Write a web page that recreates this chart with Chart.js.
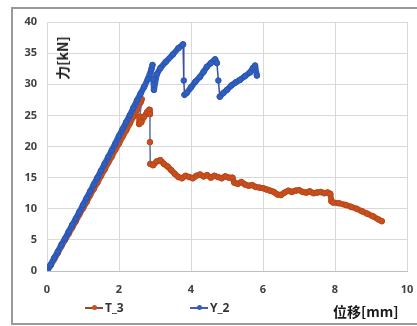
<!DOCTYPE html>
<html>
<head>
<meta charset="utf-8">
<script src="https://cdn.jsdelivr.net/npm/chart.js@4/dist/chart.umd.min.js"></script>
<style>
    html, body { margin: 0; padding: 0; background: #fff; }
    #wrap { position: relative; width: 417px; height: 326px; overflow: hidden; font-family: "Noto Sans", "Noto Sans CJK SC", sans-serif; }
    #frame { position: absolute; left: 11px; top: 7px; width: 420px; height: 318px; border: 2px solid #9a9a9a; box-sizing: border-box; }
    canvas { position: absolute; left: 0; top: 0; }
    .ttl { position: absolute; font-weight: 700; color: #1a1a1a; font-family: "Noto Sans CJK SC", "Noto Sans", sans-serif; white-space: nowrap; }
    #ytitle { left: 62px; top: 58px; font-size: 14px; transform: translate(-50%, -50%) rotate(-90deg); }
    #xtitle { left: 333px; top: 301px; font-size: 14px; }
    .lg { position: absolute; top: 299px; font-size: 12px; font-weight: 700; color: #333; display: flex; align-items: center; }
    .lg .ln { position: relative; width: 18px; height: 2px; margin-right: 2px; }
    .lg .dot { position: absolute; left: 7px; top: -2px; width: 5px; height: 5px; border-radius: 50%; }
</style>
</head>
<body>
<div id="wrap">
    <div id="frame"></div>
    <canvas id="chart" width="417" height="326"></canvas>
    <div class="ttl" id="ytitle">力[kN]</div>
    <div class="ttl" id="xtitle">位移[mm]</div>
    <div class="lg" style="left:85px"><span class="ln" style="background:#8b4a3a"><span class="dot" style="background:#c8501e"></span></span>T_3</div>
    <div class="lg" style="left:190px"><span class="ln" style="background:#4a5aa8"><span class="dot" style="background:#2f5fbf"></span></span>Y_2</div>
</div>
<script>
    const seriesNames = ['T_3', 'Y_2'];

    const t3X = [0, 0.1, 0.2, 0.3, 0.4, 0.5, 0.6, 0.7, 0.8, 0.9, 1.0, 1.1, 1.2, 1.3, 1.4, 1.5, 1.6, 1.7, 1.8, 1.9,
        2.0, 2.1, 2.2, 2.3, 2.4, 2.5, 2.6, 2.63, 2.58, 2.56, 2.62, 2.7, 2.78, 2.84, 2.86, 2.86, 2.87,
        2.95, 3.05, 3.15, 3.25, 3.35, 3.45, 3.55, 3.65, 3.75, 3.85, 3.95, 4.05, 4.15, 4.25, 4.35, 4.45,
        4.55, 4.65, 4.75, 4.85, 4.95, 5.05, 5.15, 5.2, 5.3, 5.4, 5.5, 5.6, 5.7, 5.8, 5.9, 6.0, 6.1, 6.2,
        6.3, 6.4, 6.5, 6.6, 6.7, 6.8, 6.9, 7.0, 7.1, 7.2, 7.3, 7.4, 7.5, 7.6, 7.7, 7.8, 7.87, 7.9, 7.95,
        8.1, 8.3, 8.45, 8.6, 8.75, 8.9, 9.05, 9.2, 9.3];
    const t3Y = [0, 0.9, 1.9, 2.9, 4.0, 5.0, 6.0, 7.0, 8.0, 9.1, 10.1, 11.1, 12.2, 13.2, 14.2, 15.3, 16.3, 17.4, 18.4, 19.5,
        20.5, 21.6, 22.6, 23.7, 24.8, 25.9, 27.1, 27.6, 24.8, 23.6, 23.9, 24.8, 25.5, 25.9, 25.2, 20.7, 17.2,
        17.0, 17.6, 17.8, 17.2, 16.8, 16.2, 15.6, 15.1, 14.9, 15.3, 15.1, 14.9, 15.3, 15.5, 15.2, 15.4,
        15.0, 15.3, 15.1, 14.9, 15.2, 15.0, 15.0, 14.2, 14.0, 14.3, 13.9, 13.7, 13.8, 13.5, 13.4, 13.3, 13.1, 12.9,
        12.7, 12.3, 12.2, 12.6, 12.9, 12.7, 12.9, 13.0, 12.7, 12.6, 12.8, 12.5, 12.6, 12.7, 12.5, 12.6, 12.4, 11.2, 11.0,
        10.9, 10.6, 10.3, 10.0, 9.6, 9.2, 8.8, 8.3, 8.0];

    const y2X = [0, 0.1, 0.2, 0.3, 0.4, 0.5, 0.6, 0.7, 0.8, 0.9, 1.0, 1.1, 1.2, 1.3, 1.4, 1.5, 1.6, 1.7, 1.8, 1.9,
        2.0, 2.1, 2.2, 2.3, 2.4, 2.5, 2.6, 2.7, 2.8, 2.9, 2.93, 2.95, 2.97,
        3.05, 3.15, 3.3, 3.5, 3.65, 3.78, 3.8, 3.82, 3.88, 4.0, 4.12, 4.25, 4.35, 4.44, 4.55, 4.67,
        4.72, 4.76, 4.8, 4.9, 5.0, 5.12, 5.24, 5.36, 5.5, 5.64, 5.72, 5.78, 5.83];
    const y2Y = [0, 1.0, 2.1, 3.1, 4.2, 5.2, 6.3, 7.4, 8.4, 9.5, 10.6, 11.7, 12.8, 13.9, 15.0, 16.1, 17.2, 18.3, 19.4, 20.5,
        21.7, 22.8, 23.9, 25.0, 26.2, 27.4, 28.5, 29.6, 30.8, 32.4, 33.1, 30.8, 29.1,
        31.6, 32.6, 33.6, 34.8, 35.8, 36.4, 30.6, 28.3, 28.6, 29.5, 30.4, 31.2, 32.0, 32.8, 33.4, 34.0,
        33.4, 30.6, 28.0, 28.6, 29.1, 29.8, 30.3, 30.7, 31.3, 31.9, 32.6, 33.0, 31.4];

    const xTickValues = [0, 2, 4, 6, 8, 10];
    const yTickValues = [0, 5, 10, 15, 20, 25, 30, 35, 40];

    const toPoints = (xs, ys) => xs.map((x, i) => ({ x, y: ys[i] }));

    // sudden load drops are drawn as a thin connector, the rest as a thick band
    const segWidth = (c) => {
        const dy = Math.abs(c.p1.parsed.y - c.p0.parsed.y);
        const dx = Math.abs(c.p1.parsed.x - c.p0.parsed.x);
        return (dy > 2.1 && dx < 0.05) ? 1.5 : 6;
    };

    const ctx = document.getElementById('chart');
    new Chart(ctx, {
        type: 'scatter',
        data: {
            datasets: [
                {
                    label: seriesNames[0],
                    data: toPoints(t3X, t3Y),
                    order: 1,
                    showLine: true,
                    borderColor: '#c4521f',
                    borderWidth: 6,
                    borderJoinStyle: 'round',
                    borderCapStyle: 'round',
                    segment: {
                        borderWidth: segWidth,
                        borderColor: (c) => segWidth(c) < 2 ? '#5a6fa8' : undefined
                    },
                    pointRadius: 2.8,
                    pointBackgroundColor: '#c8501e',
                    pointBorderColor: '#b8461a',
                    pointBorderWidth: 1
                },
                {
                    label: seriesNames[1],
                    data: toPoints(y2X, y2Y),
                    order: 0,
                    showLine: true,
                    borderColor: '#2f5cbd',
                    borderWidth: 6,
                    borderJoinStyle: 'round',
                    borderCapStyle: 'round',
                    segment: {
                        borderWidth: segWidth,
                        borderColor: (c) => segWidth(c) < 2 ? '#3a4f9a' : undefined
                    },
                    pointRadius: 2.8,
                    pointBackgroundColor: '#2f5fbf',
                    pointBorderColor: '#2a55b0',
                    pointBorderWidth: 1
                }
            ]
        },
        options: {
            responsive: false,
            animation: false,
            layout: { padding: { left: 0, top: 22, right: 10, bottom: 25 } },
            plugins: { legend: { display: false }, tooltip: { enabled: false } },
            scales: {
                x: {
                    type: 'linear',
                    min: 0,
                    max: 10,
                    afterFit: (scale) => {
                        scale.height = 30;
                        scale.paddingLeft = 0;
                        scale.paddingRight = 0;
                    },
                    afterBuildTicks: (scale) => { scale.ticks = xTickValues.map((v) => ({ value: v })); },
                    grid: { color: '#d9d9d9', drawTicks: false },
                    border: { color: '#bfbfbf' },
                    ticks: { padding: 12, color: '#404040', font: { family: 'Noto Sans', size: 11, weight: 'bold' } }
                },
                y: {
                    min: 0,
                    max: 40,
                    afterFit: (scale) => { scale.width = 47; },
                    afterBuildTicks: (scale) => { scale.ticks = yTickValues.map((v) => ({ value: v })); },
                    grid: { color: '#d9d9d9', drawTicks: false },
                    border: { display: false },
                    ticks: { padding: 10, color: '#404040', font: { family: 'Noto Sans', size: 11, weight: 'bold' } }
                }
            }
        }
    });
</script>
</body>
</html>
